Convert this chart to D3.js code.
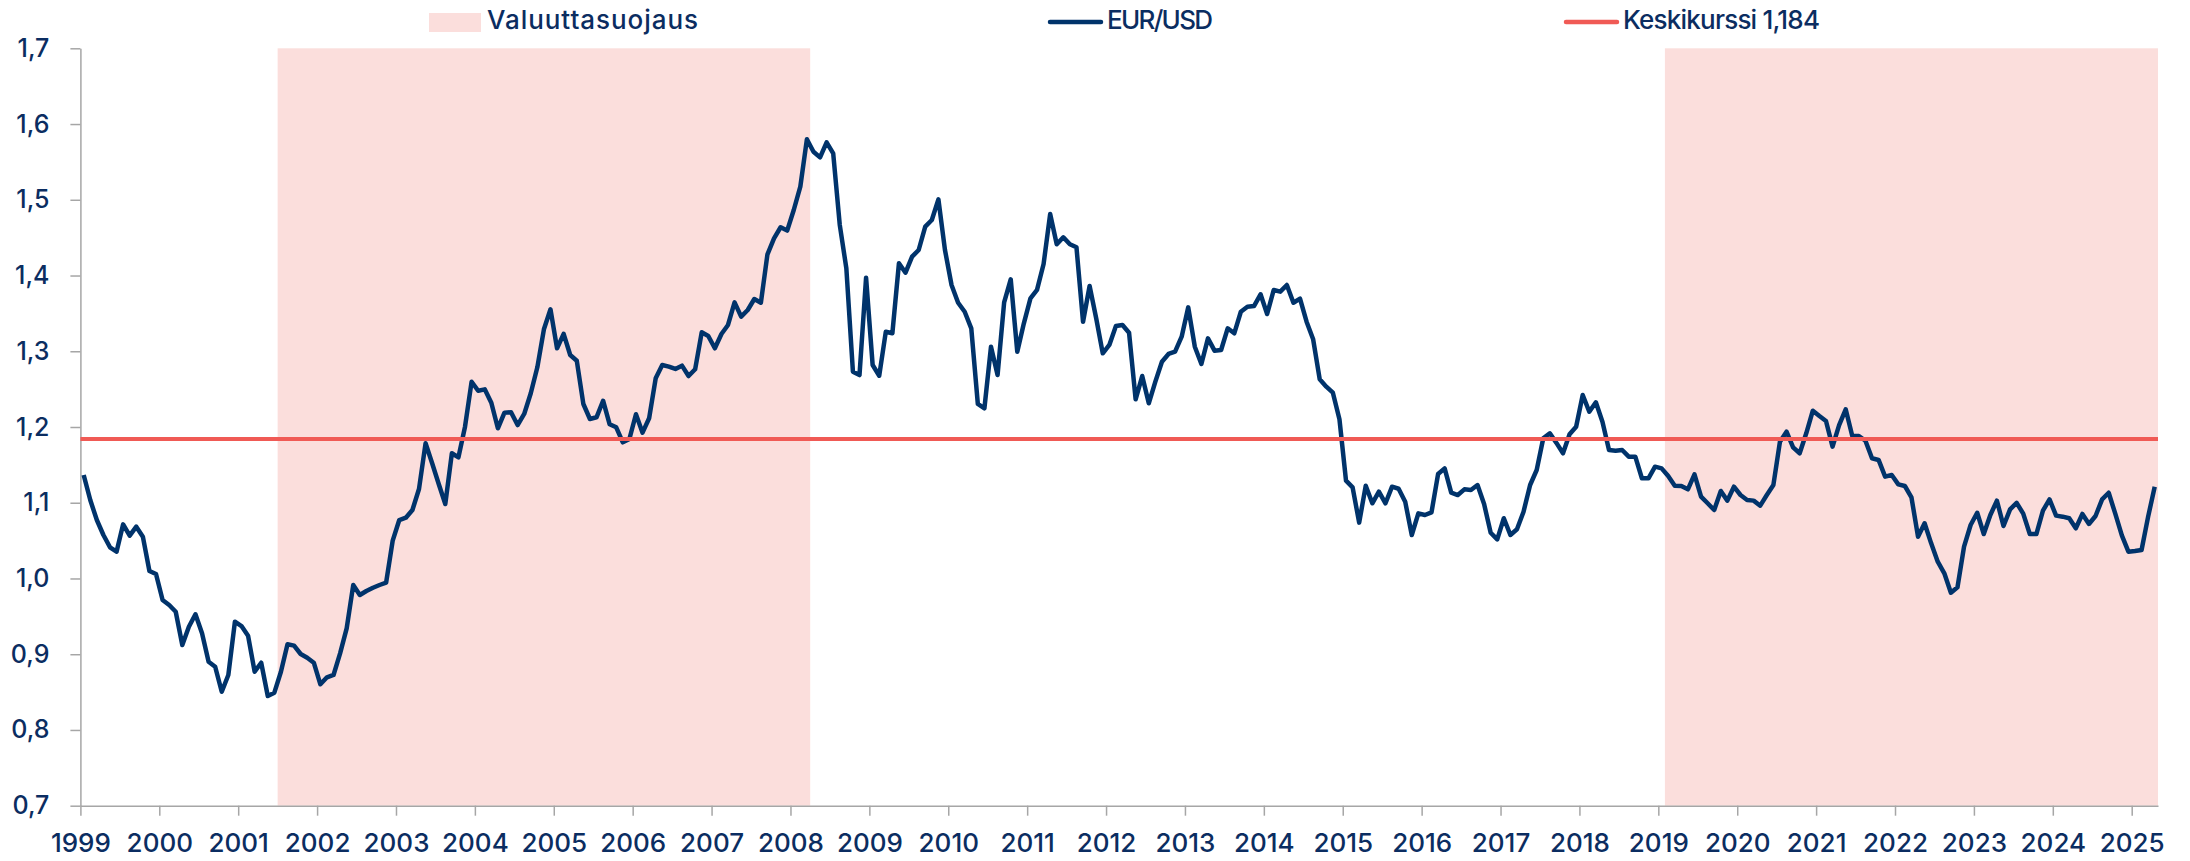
<!DOCTYPE html>
<html>
<head>
<meta charset="utf-8">
<script src="https://cdn.jsdelivr.net/npm/d3@7"></script>
<style>
  body { margin: 0; background: #fff; }
  text { font-family: Inter, "Open Sans", sans-serif; font-weight: 500; fill: #0b2d61; }
</style>
</head>
<body>
<script>
'use strict';

// EUR/USD month-end values, Jan 1999 .. Apr 2025 (one row per year)
const firstYear = 1999;
const eurusd = [
  1.1366, 1.1036, 1.0772, 1.0574, 1.0412, 1.0354, 1.0715, 1.0565, 1.0684, 1.0552, 1.0099, 1.0059, // 1999
  0.9716, 0.9650, 0.9561, 0.9122, 0.9363, 0.9527, 0.9276, 0.8901, 0.8835, 0.8505, 0.8726, 0.9430, // 2000
  0.9372, 0.9245, 0.8769, 0.8888, 0.8448, 0.8492, 0.8769, 0.9131, 0.9113, 0.9003, 0.8954, 0.8888, // 2001
  0.8603, 0.8695, 0.8726, 0.9012, 0.9342, 0.9914, 0.9782, 0.9835, 0.9878, 0.9914, 0.9945, 1.0499, // 2002
  1.0772, 1.0803, 1.0904, 1.1181, 1.1785, 1.1521, 1.1247, 1.0983, 1.1653, 1.1600, 1.2004, 1.2598, // 2003
  1.2479, 1.2497, 1.2321, 1.1983, 1.2189, 1.2194, 1.2026, 1.2172, 1.2445, 1.2788, 1.3290, 1.3554, // 2004
  1.3039, 1.3230, 1.2951, 1.2875, 1.2304, 1.2106, 1.2128, 1.2347, 1.2036, 1.1996, 1.1798, 1.1842, // 2005
  1.2168, 1.1925, 1.2115, 1.2643, 1.2819, 1.2797, 1.2766, 1.2810, 1.2673, 1.2762, 1.3250, 1.3202, // 2006
  1.3039, 1.3228, 1.3347, 1.3646, 1.3457, 1.3545, 1.3690, 1.3641, 1.4280, 1.4491, 1.4637, 1.4593, // 2007
  1.4865, 1.5173, 1.5799, 1.5635, 1.5560, 1.5758, 1.5613, 1.4667, 1.4095, 1.2730, 1.2686, 1.3971, // 2008
  1.2819, 1.2677, 1.3258, 1.3237, 1.4161, 1.4037, 1.4249, 1.4337, 1.4645, 1.4733, 1.5006, 1.4337, // 2009
  1.3875, 1.3641, 1.3522, 1.3303, 1.2304, 1.2247, 1.3060, 1.2686, 1.3646, 1.3950, 1.2994, 1.3369, // 2010
  1.3699, 1.3810, 1.4152, 1.4812, 1.4412, 1.4505, 1.4412, 1.4373, 1.3390, 1.3862, 1.3435, 1.2973, // 2011
  1.3083, 1.3333, 1.3347, 1.3245, 1.2366, 1.2673, 1.2313, 1.2598, 1.2862, 1.2964, 1.2994, 1.3192, // 2012
  1.3580, 1.3060, 1.2832, 1.3170, 1.3008, 1.3017, 1.3303, 1.3237, 1.3522, 1.3588, 1.3597, 1.3752, // 2013
  1.3492, 1.3809, 1.3787, 1.3875, 1.3641, 1.3694, 1.3390, 1.3158, 1.2630, 1.2533, 1.2453, 1.2102, // 2014
  1.1291, 1.1203, 1.0737, 1.1225, 1.0993, 1.1146, 1.0993, 1.1212, 1.1185, 1.1014, 1.0574, 1.0860, // 2015
  1.0838, 1.0873, 1.1379, 1.1454, 1.1133, 1.1102, 1.1177, 1.1168, 1.1234, 1.0983, 1.0604, 1.0516, // 2016
  1.0795, 1.0574, 1.0649, 1.0882, 1.1234, 1.1432, 1.1851, 1.1917, 1.1790, 1.1653, 1.1904, 1.2004, // 2017
  1.2422, 1.2202, 1.2326, 1.2070, 1.1696, 1.1687, 1.1696, 1.1608, 1.1608, 1.1323, 1.1323, 1.1476, // 2018
  1.1454, 1.1353, 1.1225, 1.1221, 1.1177, 1.1375, 1.1080, 1.0993, 1.0904, 1.1155, 1.1028, 1.1212, // 2019
  1.1102, 1.1036, 1.1028, 1.0961, 1.1102, 1.1234, 1.1806, 1.1938, 1.1732, 1.1653, 1.1917, 1.2215, // 2020
  1.2145, 1.2079, 1.1741, 1.2026, 1.2234, 1.1881, 1.1881, 1.1819, 1.1587, 1.1565, 1.1344, 1.1366, // 2021
  1.1243, 1.1221, 1.1072, 1.0552, 1.0729, 1.0464, 1.0222, 1.0068, 0.9812, 0.9883, 1.0420, 1.0706, // 2022
  1.0868, 1.0587, 1.0838, 1.1027, 1.0693, 1.0913, 1.0999, 1.0856, 1.0587, 1.0587, 1.0895, 1.1045, // 2023
  1.0830, 1.0816, 1.0795, 1.0663, 1.0852, 1.0720, 1.0825, 1.1045, 1.1132, 1.0856, 1.0570, 1.0354, // 2024
  1.0362, 1.0376, 1.0816, 1.1212                                                                  // 2025
];

// average rate (red line)
const averageRate = 1.184;

// currency hedge periods, first and last month (shaded)
const hedgeFrom = ["2001-07", "2019-02"];
const hedgeTo = ["2008-03", "2025-04"];

// axis labels
const yTicks = [0.7, 0.8, 0.9, 1.0, 1.1, 1.2, 1.3, 1.4, 1.5, 1.6, 1.7];
const years = [1999, 2000, 2001, 2002, 2003, 2004, 2005, 2006, 2007, 2008, 2009, 2010, 2011,
  2012, 2013, 2014, 2015, 2016, 2017, 2018, 2019, 2020, 2021, 2022, 2023, 2024, 2025];

const legendLabels = ["Valuuttasuojaus", "EUR/USD", "Keskikurssi 1,184"];

const navy = "#00336b";
const red = "#f05a55";
const pink = "#fbdedc";
const grey = "#a6a6a6";

// month string "YYYY-MM" -> index from first month
function monthIndex(s) {
  let parts = s.split("-");
  return (+parts[0] - firstYear) * 12 + (+parts[1] - 1);
}

const fi = d3.formatLocale({ decimal: ",", thousands: " ", grouping: [3], currency: ["", " €"] });

let svg = d3.select("body").append("svg")
  .attr("width", 2190)
  .attr("height", 861);

// category (month) scale: each month is one slot, points sit in the middle
let x = d3.scaleLinear()
  .domain([0, eurusd.length])
  .range([80.4, 2158]);

let y = d3.scaleLinear()
  .domain([0.7, 1.7])
  .range([805.7, 48.3]);

// shaded hedge periods
svg.selectAll(".hedge")
  .data(hedgeFrom)
  .enter()
  .append("rect")
    .attr("class", "hedge")
    .attr("x", d => x(monthIndex(d)))
    .attr("width", (d, i) => x(monthIndex(hedgeTo[i]) + 1) - x(monthIndex(d)))
    .attr("y", y(1.7))
    .attr("height", y(0.7) - y(1.7))
    .attr("fill", pink);

// y axis
let yAxis = svg.append("g")
  .attr("transform", `translate(${x(0)},0)`)
  .call(d3.axisLeft(y).tickValues(yTicks).tickFormat(fi.format(".1f"))
    .tickSize(10).tickSizeOuter(0).tickPadding(21));

// x axis, a tick at the start of every year
let xAxis = svg.append("g")
  .attr("transform", `translate(0,${y(0.7)})`)
  .call(d3.axisBottom(x).tickValues(years.map(yr => (yr - firstYear) * 12))
    .tickFormat(i => years[i / 12]).tickSize(10).tickSizeOuter(0).tickPadding(18));

[yAxis, xAxis].forEach(g => {
  g.selectAll("path, line").attr("stroke", grey).attr("stroke-width", 1.5);
  g.selectAll("text").attr("fill", "#0b2d61")
    .style("font-family", "Inter, 'Open Sans', sans-serif").style("font-weight", 500);
});
yAxis.selectAll("text").style("font-size", "25px");
xAxis.selectAll("text").style("font-size", "26px");

// EUR/USD line
let line = d3.line()
  .x((d, i) => x(i + 0.5))
  .y(d => y(d));

svg.append("path")
  .datum(eurusd)
  .attr("d", line)
  .attr("fill", "none")
  .attr("stroke", navy)
  .attr("stroke-width", 4.5)
  .attr("stroke-linejoin", "round");

// average line
svg.append("line")
  .attr("x1", x(0))
  .attr("x2", x(eurusd.length))
  .attr("y1", y(averageRate))
  .attr("y2", y(averageRate))
  .attr("stroke", red)
  .attr("stroke-width", 4);

// legend
let legend = svg.append("g");

legend.append("rect")
  .attr("x", 429).attr("y", 13).attr("width", 52).attr("height", 19)
  .attr("fill", pink);

legend.append("line")
  .attr("x1", 1050).attr("x2", 1101).attr("y1", 22).attr("y2", 22)
  .attr("stroke", navy).attr("stroke-width", 4.5).attr("stroke-linecap", "round");

legend.append("line")
  .attr("x1", 1566).attr("x2", 1617).attr("y1", 22).attr("y2", 22)
  .attr("stroke", red).attr("stroke-width", 4.5).attr("stroke-linecap", "round");

legend.selectAll(".label")
  .data(legendLabels)
  .enter()
  .append("text")
    .attr("class", "label")
    .attr("x", (d, i) => [487, 1107, 1623][i])
    .attr("y", 29)
    .attr("textLength", (d, i) => [211, 106, 197][i])
    .attr("lengthAdjust", "spacing")
    .style("font-size", "26px")
    .text(d => d);
</script>
</body>
</html>
